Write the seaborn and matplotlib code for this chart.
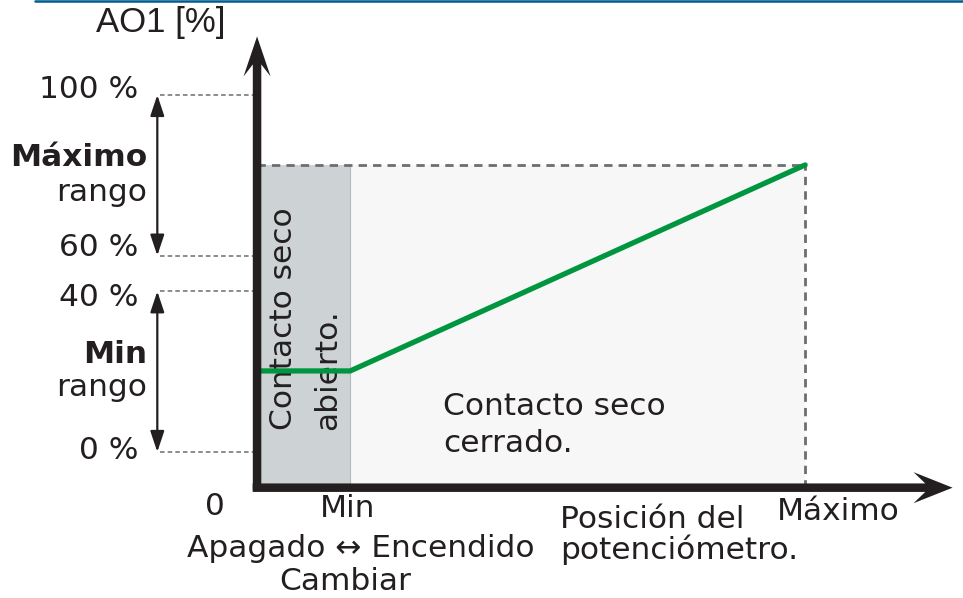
import numpy as np
import pandas as pd
import matplotlib.pyplot as plt
import seaborn as sns

sns.set_theme(style='white')
plt.rcParams['font.family'] = ['DejaVu Sans']

# schematic units: x = potentiometer position (Min=17, Max=100), y = output level
pos_labels = ['0', 'Min', 'Máximo']
pos_values = [0, 17, 100]
pct_labels = ['0 %', '40 %', '60 %', '100 %']
pct_values = [0, 45, 55, 100]
signal_x = [0, 17, 100]
signal_y = [22.7, 22.7, 80.4]

ink = '#231f20'
grey = '#6d6e71'
green = '#00963f'

df = pd.DataFrame({'pos': signal_x, 'out': signal_y})

fig = plt.figure(figsize=(9.63, 5.98), dpi=100)
ax = fig.add_axes([0, 0, 1, 1])
ax.set_xlim(-46.9, 128.8)
ax.set_ylim(-40.9, 126.6)
ax.axis('off')

base = -10  # where the x axis sits

# shaded zones
ax.fill_between([pos_values[0], pos_values[1]], base, signal_y[-1], color='#cdd3d4', lw=0, zorder=1)
ax.fill_between([pos_values[1], pos_values[2]], base, signal_y[-1], color='#f7f7f7', lw=0, zorder=1)
ax.plot([pos_values[1]] * 2, [base, signal_y[-1]], color='#b5b9ba', lw=0.8, zorder=2)

# dashed guides
ax.plot([0, pos_values[2]], [signal_y[-1]] * 2, color=grey, lw=2, ls=(0, (3, 2.2)), zorder=2)
ax.plot([pos_values[2]] * 2, [base, signal_y[-1]], color=grey, lw=2, ls=(0, (3, 2.2)), zorder=2)
for v in pct_values:
    ax.plot([-17.7, 0], [v, v], color=grey, lw=1.1, ls=(0, (3, 2)), zorder=2)

# range arrows
for lo, hi in [(pct_values[2], pct_values[3]), (pct_values[0], pct_values[1])]:
    ax.annotate('', xy=(-18.2, hi), xytext=(-18.2, lo),
                arrowprops=dict(arrowstyle='<|-|>,head_length=0.9,head_width=0.3',
                                color=ink, lw=1.6, shrinkA=0, shrinkB=0, mutation_scale=14))

# signal
sns.lineplot(data=df, x='pos', y='out', color=green, lw=3.8, ax=ax, zorder=4,
             solid_joinstyle='miter')

# axes with arrow heads
ax.arrow(0, base - 0.6, 0, 116.4 - base + 0.6, width=8.5 / 5.48, head_width=27 / 5.48,
         head_length=40 / 3.57, length_includes_head=True, overhang=0.3,
         color=ink, lw=0, zorder=5)
ax.arrow(-0.8, base, 127.7, 0, width=8.5 / 3.57, head_width=31 / 3.57,
         head_length=39 / 5.48, length_includes_head=True, overhang=0.3,
         color=ink, lw=0, zorder=5)

# top rule
ax.axhline(126.3, xmin=35 / 963, xmax=1, color='#005b8f', lw=1.8)

fs = 22.5
ax.text(-5.8, 120.4, 'AO1 [%]', ha='right', va='center', fontsize=25,
        family=['Liberation Sans Narrow', 'Liberation Sans'], color=ink)

offs = [0.3, -1.6, 2.4, 1.4]
for lab, v, o in zip(pct_labels, pct_values, offs):
    ax.text(-21.7, v + o, lab, ha='right', va='center', fontsize=fs, color=ink)

ax.text(-20.1, 82.6, 'Máximo', ha='right', va='center', fontsize=fs, weight='bold', color=ink)
ax.text(-20.1, 72.8, 'rango', ha='right', va='center', fontsize=fs, color=ink)
ax.text(-20.1, 27.2, 'Min', ha='right', va='center', fontsize=fs, weight='bold', color=ink)
ax.text(-20.1, 18.2, 'rango', ha='right', va='center', fontsize=fs, color=ink)

ax.text(-7.7, -15.4, pos_labels[0], ha='center', va='center', fontsize=fs, color=ink)
ax.text(16.6, -15.7, pos_labels[1], ha='center', va='center', fontsize=fs, color=ink)
ax.text(106.0, -16.6, pos_labels[2], ha='center', va='center', fontsize=fs, color=ink)
ax.text(19.0, -26.9, 'Apagado ↔ Encendido', ha='center', va='center', fontsize=fs, color=ink)
ax.text(16.1, -36.4, 'Cambiar', ha='center', va='center', fontsize=fs, color=ink)
ax.text(55.3, -18.8, 'Posición del', ha='left', va='center', fontsize=fs, color=ink)
ax.text(55.3, -27.5, 'potenciómetro.', ha='left', va='center', fontsize=fs, color=ink)

ax.text(33.9, 7.6, 'Contacto seco\ncerrado.', ha='left', va='center',
        fontsize=fs, color=ink, linespacing=1.35)
ax.text(4.9, 6.2, 'Contacto seco', rotation=90, ha='center', va='bottom', fontsize=fs, color=ink, zorder=3)
ax.text(12.8, 6.2, 'abierto.', rotation=90, ha='center', va='bottom', fontsize=fs, color=ink, zorder=3)

fig.savefig('out.png', dpi=100)
